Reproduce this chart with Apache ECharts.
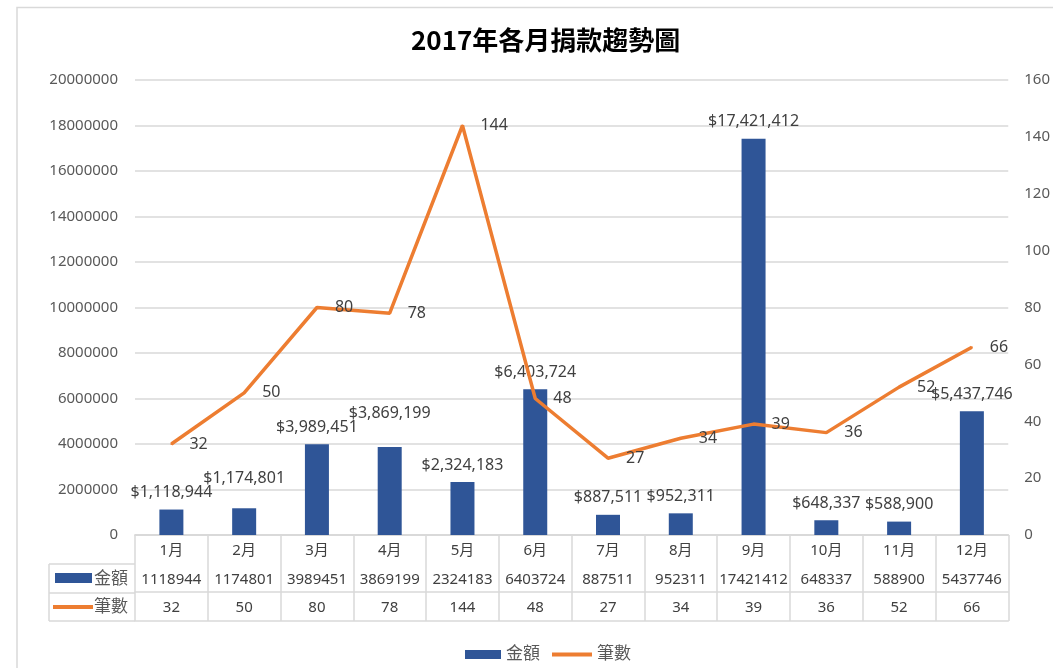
<!DOCTYPE html>
<html><head><meta charset="utf-8">
<script src="https://cdn.jsdelivr.net/npm/echarts@6/dist/echarts.min.js"></script>
<style>html,body{margin:0;padding:0;background:#fff}#c{width:1053px;height:668px}</style>
</head><body><div id="c"></div>
<script>
var months = ['1月','2月','3月','4月','5月','6月','7月','8月','9月','10月','11月','12月'];
var amounts = [1118944,1174801,3989451,3869199,2324183,6403724,887511,952311,17421412,648337,588900,5437746];
var counts = [32,50,80,78,144,48,27,34,39,36,52,66];
var seriesNames = ['金額','筆數'];
var titleText = '2017年各月捐款趨勢圖';

var FONT = '"Noto Sans", "Noto Sans CJK TC", sans-serif';
var BLUE = '#2F5597', ORANGE = '#ED7D31', GRID = '#d9d9d9', TXT = '#595959', LBL = '#404040';
var chart = echarts.init(document.getElementById('c'));

function money(v){ return '$' + v.toLocaleString('en-US'); }

function tableAxis(offset, fmt, showTicks){
  return {
    type:'category', data: months, position:'bottom', offset: offset, gridIndex:0,
    axisLine:{show:true, lineStyle:{color:GRID, width:1.5}},
    axisTick:{show:showTicks, length:86, interval:0, alignWithLabel:false, lineStyle:{color:GRID, width:1.5}},
    axisLabel:{show: fmt!==null, interval:0, margin:8, color:LBL, fontSize:15, fontFamily:FONT,
      formatter: fmt || function(){return '';}},
    splitLine:{show:false}
  };
}

// simple overlap avoidance: a label that collides with its left neighbour is lifted above it
var placed = [];
function barLabelLayout(p){
  if (p.dataIndex === 0) placed = [];
  var r = {x:p.labelRect.x, y:p.labelRect.y, width:p.labelRect.width, height:p.labelRect.height};
  var dy = 0;
  var prev = placed[p.dataIndex - 1];
  if (prev && r.x < prev.x + prev.width - 2 && prev.x < r.x + r.width &&
      r.y < prev.y + prev.height && prev.y < r.y + r.height) {
    dy = prev.y - (r.y + r.height) + 2;
  }
  r.y += dy;
  placed[p.dataIndex] = r;
  return {dy: dy};
}

chart.setOption({
  animation:false,
  backgroundColor:'#fff',
  textStyle:{fontFamily:FONT},
  title:{text:titleText, left:406, top:22,
    textStyle:{fontSize:26, fontWeight:'bold', color:'#000', fontFamily:'"Noto Sans CJK TC", sans-serif'}},
  grid:{left:135, right:41, top:80, bottom:133, containLabel:false},
  legend:[
    {left:460, top:641, itemWidth:36, itemHeight:9, itemGap:0,
     textStyle:{fontSize:17, color:TXT, fontFamily:FONT},
     data:[{name:seriesNames[0], icon:'rect'}]},
    {left:547, top:641, itemWidth:40, itemHeight:4, itemGap:0,
     textStyle:{fontSize:17, color:TXT, fontFamily:FONT},
     data:[{name:seriesNames[1], icon:'rect'}]}
  ],
  xAxis:[
    tableAxis(0, function(v){return v;}, true),
    tableAxis(29, function(v,i){return String(amounts[i]);}, false),
    tableAxis(57, function(v,i){return String(counts[i]);}, false),
    tableAxis(86, null, false)
  ],
  yAxis:[
    {type:'value', min:0, max:20000000, interval:2000000,
     axisLine:{show:false}, axisTick:{show:false},
     axisLabel:{color:TXT, fontSize:15, margin:17, fontFamily:FONT, formatter:function(v){return String(v);}},
     splitLine:{lineStyle:{color:GRID, width:1.5}}},
    {type:'value', min:0, max:160, interval:20, position:'right',
     axisLine:{show:false}, axisTick:{show:false},
     axisLabel:{color:TXT, fontSize:15, margin:16, fontFamily:FONT},
     splitLine:{show:false}}
  ],
  series:[
    {name:seriesNames[0], type:'bar', data:amounts, xAxisIndex:0, yAxisIndex:0, barWidth:24,
     itemStyle:{color:BLUE},
     labelLayout: barLabelLayout,
     label:{show:true, position:'top', distance:9, color:LBL, fontSize:16, fontFamily:FONT,
       formatter:function(p){return money(p.value);}}},
    {name:seriesNames[1], type:'line', data:counts, xAxisIndex:0, yAxisIndex:1,
     symbol:'circle', symbolSize:2, showSymbol:true,
     lineStyle:{color:ORANGE, width:3.5}, itemStyle:{color:ORANGE},
     label:{show:true, position:'right', distance:17, color:LBL, fontSize:16, fontFamily:FONT}}
  ],
  graphic:[
    {type:'rect', shape:{x:17, y:7.5, width:1100, height:700}, style:{fill:'none', stroke:GRID, lineWidth:1.5}, silent:true, z:-1},
    {type:'line', shape:{x1:49, y1:564, x2:135, y2:564}, style:{stroke:GRID, lineWidth:1.5}},
    {type:'line', shape:{x1:49, y1:593, x2:135, y2:593}, style:{stroke:GRID, lineWidth:1.5}},
    {type:'line', shape:{x1:49, y1:621, x2:135, y2:621}, style:{stroke:GRID, lineWidth:1.5}},
    {type:'line', shape:{x1:49, y1:564, x2:49, y2:621}, style:{stroke:GRID, lineWidth:1.5}},
    {type:'rect', shape:{x:55, y:573, width:37, height:10}, style:{fill:BLUE}},
    {type:'text', x:94, y:578, style:{text:seriesNames[0], fill:TXT, font:'17px "Noto Sans CJK TC", sans-serif', verticalAlign:'middle'}},
    {type:'line', shape:{x1:53, y1:607, x2:93, y2:607}, style:{stroke:ORANGE, lineWidth:4}},
    {type:'text', x:94, y:606, style:{text:seriesNames[1], fill:TXT, font:'17px "Noto Sans CJK TC", sans-serif', verticalAlign:'middle'}}
  ]
});
</script></body></html>
